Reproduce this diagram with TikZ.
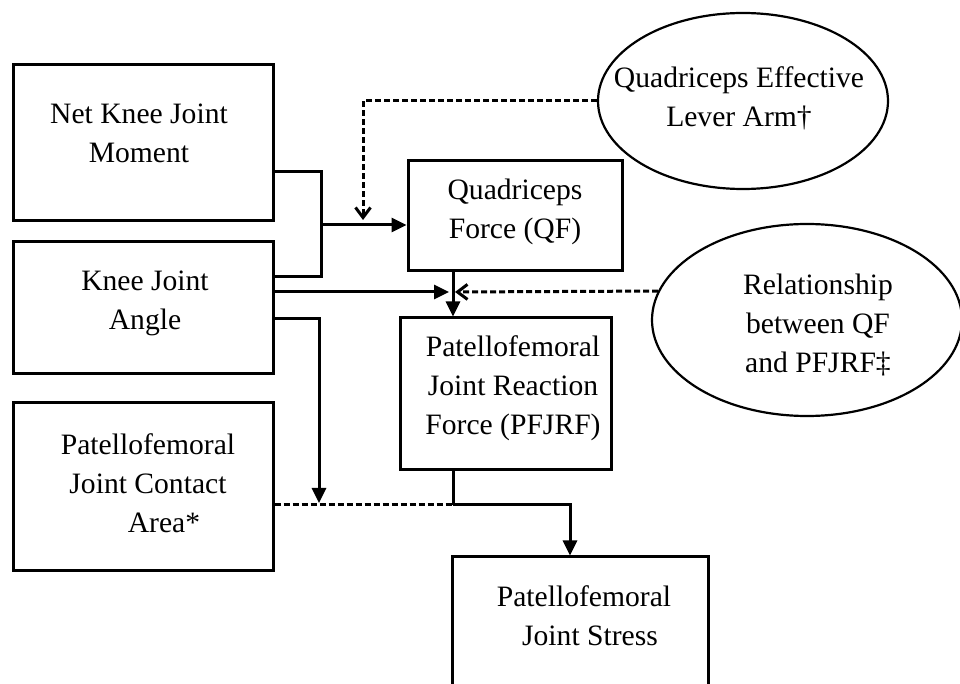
\documentclass[tikz,border=0pt]{standalone}
\usepackage{fontspec}
\setmainfont{Liberation Serif}
\usetikzlibrary{arrows.meta,shapes.geometric}

\begin{document}
\begin{tikzpicture}[x=0.5pt,y=-0.5pt,
  box/.style={draw,line width=1.5pt,rectangle,inner sep=0pt},
  oval/.style={draw,line width=1.1pt,ellipse,inner sep=0pt},
  txt/.style={align=center,inner sep=0pt,font=\fontsize{14.8pt}{19.5pt}\selectfont},
  line/.style={line width=1.5pt},
  arr/.style={line width=1.5pt,-{Triangle[length=7.5pt,width=7pt]}},
  dashline/.style={line width=1.5pt,dash pattern=on 3pt off 1.5pt},
  dasharr/.style={dashline,-{Straight Barb[length=5pt,width=7.5pt]}}]
  \clip (0,0) rectangle (960,684);
  % boxes
  \node[box,minimum width=130pt,minimum height=78pt] (nkjm) at (143,143) {};
  \node[box,minimum width=130pt,minimum height=66pt] (kja) at (143,308) {};
  \node[box,minimum width=130pt,minimum height=84pt] (pfca) at (143,487) {};
  \node[box,minimum width=107pt,minimum height=55pt] (qf) at (515,216) {};
  \node[box,minimum width=105.5pt,minimum height=76pt] (pfjrf) at (505.5,394) {};
  \node[box,minimum width=128pt,minimum height=100pt] (pfs) at (580,657) {};
  \node[oval,minimum width=145pt,minimum height=88pt] (qela) at (743,101) {};
  \node[oval,minimum width=155pt,minimum height=96pt] (rel) at (807,320) {};
  % texts
  \node[txt] at (139,133) {Net Knee Joint\\Moment};
  \node[txt] at (145,303) {Knee Joint\\Angle};
  \node[txt] at (148,483) {Patellofemoral\\Joint Contact\\\hspace*{16pt}Area*};
  \node[txt] at (515,212) {Quadriceps\\Force (QF)};
  \node[txt] at (513,388) {Patellofemoral\\Joint Reaction\\Force (PFJRF)};
  \node[txt] at (584,616) {Patellofemoral\\\hspace*{6pt}Joint Stress};
  \node[txt] at (739,98) {Quadriceps Effective\\Lever Arm\textdagger};
  \node[txt] at (818,325) {Relationship\\between QF\\and PFJRF\textdaggerdbl};
  % junctions
  \coordinate (jmid) at (321,225);
  \coordinate (hub) at (453,292);
  \coordinate (cjoin) at (319,505);
  \coordinate (sjoin) at (453,505);
  % connectors
  \draw[line] (nkjm.east |- 0,172) -| (jmid) |- (kja.east |- 0,277);
  \draw[arr] (jmid) -- (jmid -| qf.west);
  \draw[dasharr] (qela.west) -| (363,220);
  \draw[arr,shorten >=2pt] (kja.east |- hub) -- (hub);
  \draw[dasharr,shorten >=1pt] (rel.169.3) -- (hub);
  \draw[arr] (qf.south -| hub) -- (pfjrf.north -| hub);
  \draw[arr,shorten >=1pt] (kja.east |- 0,319) -| (cjoin);
  \draw[dashline] (pfca.east |- cjoin) -- (sjoin);
  \draw[line] (pfjrf.south -| sjoin) -- (sjoin);
  \draw[arr] (sjoin) -| ([xshift=-5pt]pfs.north);
\end{tikzpicture}
\end{document}
